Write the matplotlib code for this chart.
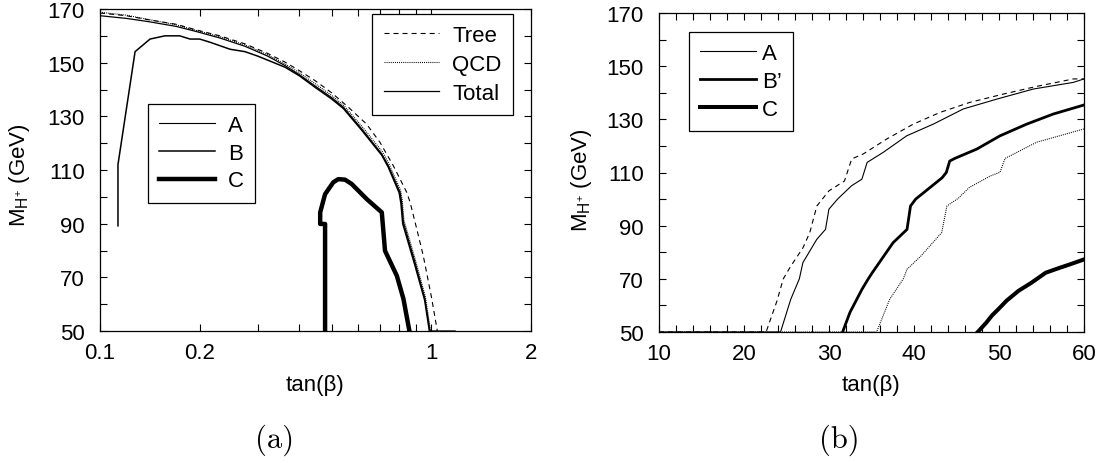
import matplotlib
matplotlib.use('Agg')
import matplotlib.pyplot as plt
from matplotlib.lines import Line2D
from matplotlib.ticker import FixedLocator, FixedFormatter, NullFormatter

plt.rcParams['font.family'] = ['Liberation Sans', 'DejaVu Sans']
plt.rcParams['font.size'] = 16
plt.rcParams['mathtext.fontset'] = 'custom'
plt.rcParams['mathtext.rm'] = 'Liberation Sans'
plt.rcParams['mathtext.it'] = 'Liberation Sans:italic'
plt.rcParams['lines.scale_dashes'] = False

# ---------------- panel (a) data ----------------
tree_a_x = [0.1, 0.12, 0.14, 0.17, 0.194, 0.23, 0.274, 0.32, 0.362, 0.40, 0.446, 0.50,
            0.562, 0.638, 0.70, 0.768, 0.843, 0.863, 0.90, 0.946, 1.00, 1.043]
tree_a_y = [168.5, 167.5, 166.0, 164.3, 162.3, 160.0, 157.0, 153.5, 150.2, 147.0, 143.3, 138.8,
            133.4, 127.1, 120.3, 111.6, 101.7, 98.0, 89.0, 78.0, 63.0, 50.0]

total_a_x = [0.1, 0.12, 0.14, 0.17, 0.194, 0.23, 0.274, 0.32, 0.362, 0.40, 0.446, 0.50,
             0.543, 0.617, 0.709, 0.742, 0.805, 0.814, 0.824, 0.893, 0.957, 0.991, 1.18]
total_a_y = [167.5, 166.5, 165.3, 163.5, 161.7, 159.2, 156.1, 152.5, 148.9, 145.5, 141.3, 137.0,
             133.4, 125.3, 116.0, 111.6, 101.7, 98.0, 90.5, 75.6, 62.0, 50.0, 50.0]

qcd_a_x = [0.1, 0.12, 0.14, 0.17, 0.194, 0.23, 0.274, 0.32, 0.362, 0.40, 0.446, 0.50,
           0.545, 0.62, 0.712, 0.745, 0.808, 0.817, 0.827, 0.896, 0.96, 0.995]
qcd_a_y = [168.8, 167.7, 166.1, 164.1, 162.1, 159.7, 156.6, 153.0, 149.5, 146.2, 142.2, 137.8,
           134.0, 126.0, 116.8, 112.3, 102.4, 98.8, 91.3, 76.4, 62.8, 50.0]

b_a_x = [0.1133, 0.1133, 0.1276, 0.1416, 0.157, 0.174, 0.187, 0.20, 0.215, 0.247, 0.274,
         0.30, 0.362, 0.40, 0.446, 0.50, 0.543, 0.617, 0.709, 0.742, 0.80, 0.81, 0.82,
         0.89, 0.955, 0.987]
b_a_y = [89.2, 112.0, 154.1, 158.8, 160.0, 160.0, 158.8, 158.8, 157.6, 155.0, 154.1,
         152.4, 148.3, 145.1, 140.8, 136.5, 132.9, 124.8, 115.5, 111.0, 101.5, 97.5, 90.0,
         75.0, 61.5, 50.0]

c_a_x = [0.478, 0.478, 0.462, 0.462, 0.478, 0.506, 0.524, 0.549, 0.575, 0.638, 0.709,
         0.725, 0.787, 0.824, 0.859]
c_a_y = [50.0, 89.9, 89.9, 94.2, 101.0, 105.4, 106.6, 106.4, 104.8, 99.2, 94.2,
         79.9, 70.6, 62.0, 50.0]

# ---------------- panel (b) data ----------------
tree_b_x = [10, 22.6, 23.87, 24.62, 25.51, 26.94, 27.74, 28.57, 29.99, 31.82, 32.67, 34.04,
            36.79, 39.92, 43.06, 46.59, 50.51, 54.44, 58.75, 60]
tree_b_y = [50, 50, 61.6, 70, 74.8, 81.7, 87.4, 97.4, 103.1, 106.8, 115.1, 117.0,
            122.6, 128.2, 132.6, 136.4, 139.5, 142.4, 145.2, 145.2]

a_b_x = [10, 24.3, 25.02, 25.5, 26.51, 26.93, 28.57, 29.59, 29.99, 31.01, 32.65, 33.87,
         34.49, 36.39, 39.14, 42.27, 45.8, 49.73, 54.04, 58.75, 60]
a_b_y = [50, 50, 57.4, 62.3, 70, 76.1, 84.9, 88.6, 96.2, 100, 105, 107.5,
         113.8, 117.6, 123.8, 128.2, 133.9, 137.6, 141.4, 143.9, 145.2]

bp_b_x = [31.6, 32.47, 33.87, 34.62, 35.09, 37.54, 39.18, 39.59, 40.2, 43.3, 43.8, 44.2,
          44.8, 47.38, 50.12, 53.26, 56.39, 60]
bp_b_y = [50, 57.4, 66, 70, 72.3, 83.6, 88.6, 97.4, 100, 108, 110, 114.3,
          115.3, 118.8, 123.8, 128.2, 132, 135.4]

dot_b_x = [10, 35.6, 37.14, 38.74, 39.18, 40.82, 43.26, 43.87, 45.21, 46.52, 48.98, 50.12,
           50.71, 54.44, 60]
dot_b_y = [50, 50, 62.3, 70, 73.6, 78.6, 87.4, 97.4, 100.3, 104.4, 108.7, 110.1,
           115.3, 121.4, 126.4]

c_b_x = [47.5, 48.5, 49.2, 49.9, 50.9, 52.3, 53.8, 55.5, 57.0, 58.4, 60]
c_b_y = [50, 53.5, 56.3, 58.5, 61.8, 65.5, 68.5, 72.3, 74.0, 75.5, 77.3]

yticks_major = [50, 70, 90, 110, 130, 150, 170]
yticks_minor = [60, 80, 100, 120, 140, 160]
xa_major = [0.1, 0.2, 1, 2]
xa_labels = ['0.1', '0.2', '1', '2']
xa_minor = [0.3, 0.4, 0.5, 0.6, 0.7, 0.8, 0.9]
xb_major = [10, 20, 30, 40, 50, 60]
xb_minor = [12, 14, 16, 18, 22, 24, 26, 28, 32, 34, 36, 38, 42, 44, 46, 48, 52, 54, 56, 58]

W, H = 1104, 464
fig = plt.figure(figsize=(W / 100, H / 100), dpi=100)
ax1 = fig.add_axes([100 / W, (H - 332) / H, 431 / W, 322 / H])
ax2 = fig.add_axes([659 / W, (H - 333) / H, 425 / W, 319 / H])

DASH = (0, (3.6, 2.9))
DOT = (0, (0.7, 0.8))

# ---- panel (a) ----
l_tree, = ax1.plot(tree_a_x, tree_a_y, color='black', lw=0.8, linestyle=DASH)
l_qcd, = ax1.plot(qcd_a_x, qcd_a_y, color='black', lw=0.8, linestyle=DOT)
l_tot, = ax1.plot(total_a_x, total_a_y, color='black', lw=0.9)
l_b, = ax1.plot(b_a_x, b_a_y, color='black', lw=1.1)
l_c, = ax1.plot(c_a_x, c_a_y, color='black', lw=3.2, solid_joinstyle='round')

ax1.set_xscale('log')
ax1.set_xlim(0.1, 2)
ax1.set_ylim(50, 170)
ax1.xaxis.set_major_locator(FixedLocator(xa_major))
ax1.xaxis.set_major_formatter(FixedFormatter(xa_labels))
ax1.xaxis.set_minor_locator(FixedLocator(xa_minor))
ax1.xaxis.set_minor_formatter(NullFormatter())

# ---- panel (b) ----
l2_tree, = ax2.plot(tree_b_x, tree_b_y, color='black', lw=0.8, linestyle=DASH)
l2_dot, = ax2.plot(dot_b_x, dot_b_y, color='black', lw=0.8, linestyle=DOT)
l2_a, = ax2.plot(a_b_x, a_b_y, color='black', lw=0.8)
l2_bp, = ax2.plot(bp_b_x, bp_b_y, color='black', lw=2.0)
l2_c, = ax2.plot(c_b_x, c_b_y, color='black', lw=2.9)

ax2.set_xlim(10, 60)
ax2.set_ylim(50, 170)
ax2.xaxis.set_major_locator(FixedLocator(xb_major))
ax2.xaxis.set_minor_locator(FixedLocator(xb_minor))

for ax in (ax1, ax2):
    ax.yaxis.set_major_locator(FixedLocator(yticks_major))
    ax.yaxis.set_minor_locator(FixedLocator(yticks_minor))
    ax.tick_params(which='both', direction='in', top=True, right=True,
                   length=5, width=0.8, color='black')
    ax.tick_params(axis='y', which='both', pad=11)
    ax.tick_params(axis='x', which='both', pad=8)
    for s in ax.spines.values():
        s.set_linewidth(0.9)
        s.set_color('black')

ylab = r'M$_{\mathregular{H}^{\mathregular{+}}}$ (GeV)'
fig.text(20 / W, 1 - 175 / H, ylab, rotation=90, ha='center', va='center', fontsize=16)
fig.text(581 / W, 1 - 180 / H, ylab, rotation=90, ha='center', va='center', fontsize=16)
fig.text(315 / W, 1 - 386 / H, 'tan(β)', ha='center', va='center', fontsize=16)
fig.text(871 / W, 1 - 386 / H, 'tan(β)', ha='center', va='center', fontsize=16)
fig.text(275 / W, 1 - 440 / H, '(a)', ha='center', va='center', fontsize=22,
         family=['cmr10', 'DejaVu Serif'])
fig.text(839 / W, 1 - 440 / H, '(b)', ha='center', va='center', fontsize=22,
         family=['cmr10', 'DejaVu Serif'])

legkw = dict(frameon=True, fancybox=False, framealpha=1, edgecolor='black',
             borderaxespad=0, fontsize=16, handlelength=2.5, borderpad=0.5)

leg1 = ax1.legend([l_tree, l_qcd, l_tot], ['Tree', 'QCD', 'Total'],
                  loc='upper right', bbox_to_anchor=(0.958, 0.984),
                  handletextpad=0.6, labelspacing=0.36, **legkw)
leg1.get_frame().set_linewidth(0.9)
ax1.add_artist(leg1)
hA = Line2D([], [], color='black', lw=0.8)
leg2 = ax1.legend([hA, l_b, l_c], ['A', 'B', 'C'],
                  loc='upper left', bbox_to_anchor=(0.111, 0.705),
                  handletextpad=0.6, labelspacing=0.3, **legkw)
leg2.get_frame().set_linewidth(0.9)

leg3 = ax2.legend([l2_a, l2_bp, l2_c], ['A', 'B\u2019', 'C'],
                  loc='upper left', bbox_to_anchor=(0.0706, 0.940),
                  handletextpad=0.3, labelspacing=0.3, **legkw)
leg3.get_frame().set_linewidth(0.9)

fig.savefig('out.png', dpi=100)
